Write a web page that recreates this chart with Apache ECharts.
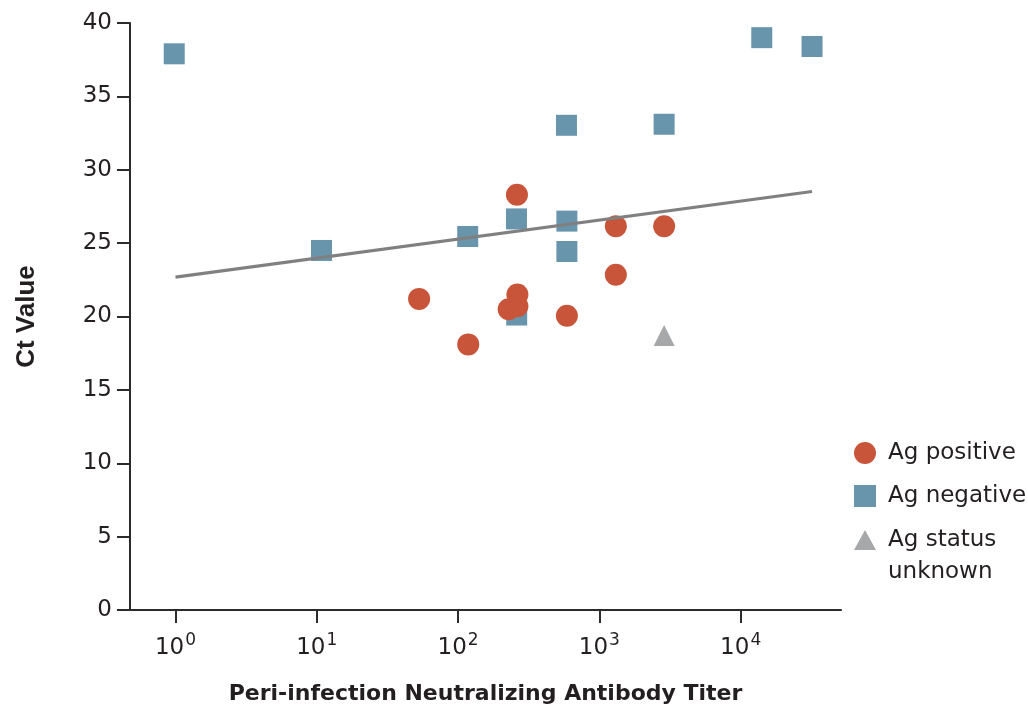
<!DOCTYPE html>
<html>
<head>
<meta charset="utf-8">
<script src="https://cdn.jsdelivr.net/npm/echarts@6/dist/echarts.min.js"></script>
<style>
html,body{margin:0;padding:0;background:#fff;}
#chart{width:1028px;height:710px;}
</style>
</head>
<body>
<div id="chart"></div>
<script>
// ---- data ----
const seriesNames = ['Ag positive', 'Ag negative', 'Ag status unknown'];
const posX = [53, 118, 261, 263, 263, 228, 589, 1308, 1308, 2873];
const posY = [21.2, 18.1, 28.3, 21.5, 20.7, 20.5, 20.05, 26.15, 22.85, 26.15];
const negX = [0.98, 10.8, 117, 259, 260, 585, 589, 589, 2873, 14100, 32000];
const negY = [37.9, 24.5, 25.45, 26.65, 20.1, 33.03, 26.5, 24.43, 33.1, 39.0, 38.4];
const unkX = [2873];
const unkY = [18.7];
const fitX = [1, 32000];
const fitY = [22.68, 28.52];
const xTicks = [1, 10, 100, 1000, 10000];

const zip = (xs, ys) => xs.map((x, i) => [x, ys[i]]);
const FONT = 'DejaVu Sans';
const TXT = '#231f20';

const chart = echarts.init(document.getElementById('chart'), null, {renderer: 'canvas'});
chart.setOption({
  animation: false,
  backgroundColor: '#fff',
  textStyle: {fontFamily: FONT},
  grid: {left: 130, right: 187, top: 23, bottom: 97, containLabel: false},
  xAxis: {
    type: 'log',
    logBase: 10,
    min: 0.4766,
    max: 51300,
    name: 'Peri-infection Neutralizing Antibody Titer',
    nameLocation: 'middle',
    nameGap: 73,
    nameTextStyle: {fontFamily: FONT, fontSize: 22, fontWeight: 'bold', color: TXT},
    axisLine: {show: true, lineStyle: {color: '#2b2b2b', width: 2}},
    axisTick: {show: true, length: 13, lineStyle: {color: '#2b2b2b', width: 2}, customValues: xTicks},
    minorTick: {show: false},
    splitLine: {show: false},
    axisLabel: {
      customValues: xTicks,
      margin: 22,
      formatter: function (v) {
        const e = Math.round(Math.log10(v));
        return '{b|10}{s|' + e + '}';
      },
      rich: {
        b: {fontFamily: FONT, fontSize: 23, color: TXT, lineHeight: 28, verticalAlign: 'bottom'},
        s: {fontFamily: FONT, fontSize: 17, color: TXT, lineHeight: 18, verticalAlign: 'top', padding: [0, 0, 0, 1]}
      }
    }
  },
  yAxis: {
    type: 'value',
    min: 0,
    max: 40,
    interval: 5,
    name: 'Ct Value',
    nameLocation: 'middle',
    nameGap: 90,
    nameRotate: 90,
    nameTextStyle: {fontFamily: 'Liberation Sans', fontSize: 26, fontWeight: 'bold', color: TXT},
    axisLine: {show: true, lineStyle: {color: '#2b2b2b', width: 2}},
    axisTick: {show: true, length: 13, lineStyle: {color: '#2b2b2b', width: 2}},
    splitLine: {show: false},
    axisLabel: {margin: 18, fontFamily: FONT, fontSize: 23, color: TXT}
  },
  legend: [{
    orient: 'vertical',
    left: 849,
    top: 432,
    itemWidth: 22,
    itemHeight: 22,
    itemGap: 11,
    itemStyle: {borderWidth: 0},
    data: [seriesNames[0], seriesNames[1]],
    textStyle: {fontFamily: FONT, fontSize: 23, color: TXT, lineHeight: 32, padding: [0, 0, 0, 7]}
  }, {
    orient: 'vertical',
    left: 849,
    top: 519,
    itemWidth: 22,
    itemHeight: 52,
    itemStyle: {borderWidth: 0},
    data: [{name: seriesNames[2], icon: 'path://M11,0L22,20L0,20Z M0,52L0.01,52L0,52Z'}],
    formatter: function () { return 'Ag status\nunknown'; },
    textStyle: {fontFamily: FONT, fontSize: 23, color: TXT, lineHeight: 32, padding: [0, 0, 0, 7]}
  }],
  series: [
    {
      name: seriesNames[1], type: 'scatter', symbol: 'rect', symbolSize: 21, z: 2,
      itemStyle: {color: '#6895ac', opacity: 1},
      data: zip(negX, negY)
    },
    {
      name: seriesNames[0], type: 'scatter', symbol: 'circle', symbolSize: 22, z: 3,
      itemStyle: {color: '#c8553a', opacity: 1},
      data: zip(posX, posY)
    },
    {
      name: seriesNames[2], type: 'scatter', symbol: 'triangle', symbolSize: 21, z: 3,
      itemStyle: {color: '#a7a8aa', opacity: 1},
      data: zip(unkX, unkY)
    },
    {
      name: 'fit', type: 'line', symbol: 'none', z: 4, silent: true,
      lineStyle: {color: '#808080', width: 3.2},
      data: zip(fitX, fitY)
    }
  ]
});
</script>
</body>
</html>
